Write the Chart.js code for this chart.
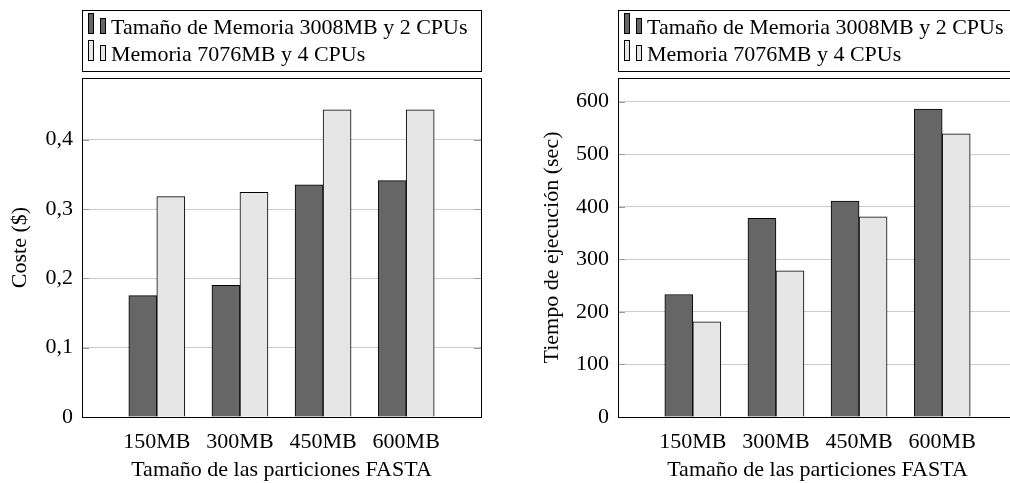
<!DOCTYPE html>
<html>
<head>
<meta charset="utf-8">
<script src="https://cdn.jsdelivr.net/npm/chart.js@4.4.1/dist/chart.umd.min.js"></script>
<style>
  html, body { margin: 0; padding: 0; background: #fff; overflow: hidden; width: 1010px; height: 483px; }
  canvas { position: absolute; top: 0; }
  #costChart { left: 0; }
  #timeChart { left: 500px; }
</style>
</head>
<body>
<canvas id="costChart" width="500" height="483"></canvas>
<canvas id="timeChart" width="530" height="483"></canvas>
<script>
// data
const partitions = ['150MB', '300MB', '450MB', '600MB'];
const seriesNames = ['Tamaño de Memoria 3008MB y 2 CPUs', 'Memoria 7076MB y 4 CPUs'];
const costSmall = [0.175, 0.19, 0.335, 0.341];
const costLarge = [0.318, 0.324, 0.443, 0.443];
const timeSmall = [233, 378, 411, 586];
const timeLarge = [181, 278, 381, 539];
const costTicks = [0, 0.1, 0.2, 0.3, 0.4];
const timeTicks = [0, 100, 200, 300, 400, 500, 600];

const darkGrey = '#666666';
const lightGrey = '#e6e6e6';

Chart.defaults.font.family = "'Liberation Serif', 'Times New Roman', serif";
Chart.defaults.font.size = 22;
Chart.defaults.color = '#000';

// little two-bar legend glyph, like the ybar legend of pgfplots
function legendIcon(fill) {
  const c = document.createElement('canvas');
  c.width = 41;
  c.height = 40;
  const g = c.getContext('2d');
  g.fillStyle = fill;
  g.strokeStyle = '#000';
  g.lineWidth = 1;
  [[15.5, 5.5, 5, 20], [27.5, 10.5, 5, 15]].forEach(([x, y, w, h]) => {
    g.fillRect(x, y, w, h);
    g.strokeRect(x, y, w, h);
  });
  return c;
}
const icons = [legendIcon(darkGrey), legendIcon(lightGrey)];

// frame around plot + legend, and the small inner tick marks
const boxes = {
  id: 'boxes',
  afterInit(chart) {
    const fit = chart.legend.fit;
    chart.legend.fit = function () {
      fit.call(this);
      this.height += 2;
    };
  },
  afterDatasetsDraw(chart) {
    const { ctx, chartArea: a, scales: { y } } = chart;
    ctx.save();
    ctx.strokeStyle = '#9a9a9a';
    ctx.lineWidth = 1;
    y.ticks.forEach(t => {
      const py = Math.round(y.getPixelForValue(t.value)) + 0.5;
      ctx.beginPath();
      ctx.moveTo(a.left, py); ctx.lineTo(a.left + 7, py);
      ctx.moveTo(a.right - 7, py); ctx.lineTo(a.right, py);
      ctx.stroke();
    });
    ctx.strokeStyle = '#000';
    ctx.strokeRect(Math.floor(a.left) + 0.5, Math.floor(a.top) + 0.5,
      Math.round(a.right - a.left), Math.round(a.bottom - a.top));
    ctx.restore();
  },
  afterDraw(chart) {
    const { ctx, legend } = chart;
    const top = Math.round(legend.top - 2) + 0.5;
    const bottom = Math.round(legend.bottom - 7) + 0.5;
    ctx.save();
    ctx.strokeStyle = '#000';
    ctx.lineWidth = 1;
    ctx.strokeRect(Math.floor(legend.left) + 0.5, top, Math.round(legend.right - legend.left), bottom - top);
    ctx.restore();
  }
};

function makeChart(id, small, large, ticks, yMax, yTitle, axisWidth, titlePad, rightPad, fmt) {
  return new Chart(document.getElementById(id), {
    type: 'bar',
    data: {
      datasets: [
        {
          label: seriesNames[0],
          data: partitions.map((p, i) => ({ x: i, y: small[i] })),
          backgroundColor: darkGrey,
          borderColor: '#000',
          borderWidth: 1,
          barThickness: 28
        },
        {
          label: seriesNames[1],
          data: partitions.map((p, i) => ({ x: i, y: large[i] })),
          backgroundColor: lightGrey,
          borderColor: '#000',
          borderWidth: 1,
          barThickness: 28
        }
      ]
    },
    options: {
      responsive: false,
      animation: false,
      devicePixelRatio: 1,
      layout: { padding: { top: 12, left: 0, right: rightPad, bottom: 0 } },
      scales: {
        x: {
          type: 'linear',
          offset: false,
          min: -0.9,
          max: 3.9,
          grid: { display: false, drawTicks: false },
          border: { display: false },
          afterBuildTicks: s => { s.ticks = partitions.map((p, i) => ({ value: i })); },
          afterFit: s => { s.height = 66; },
          ticks: {
            autoSkip: false,
            maxRotation: 0,
            padding: 12,
            callback: v => partitions[v]
          },
          title: {
            display: true,
            text: 'Tamaño de las particiones FASTA',
            padding: { top: 0, bottom: 0 }
          }
        },
        y: {
          min: 0,
          max: yMax,
          grid: { color: '#cccccc', lineWidth: 1, drawTicks: false },
          border: { display: false },
          afterBuildTicks: s => { s.ticks = ticks.map(v => ({ value: v })); },
          afterFit: s => { s.width = axisWidth; },
          ticks: { padding: 9, callback: fmt },
          title: {
            display: true,
            text: yTitle,
            padding: { top: titlePad, bottom: 0 }
          }
        }
      },
      plugins: {
        tooltip: { enabled: false },
        legend: {
          position: 'top',
          align: 'start',
          fullSize: false,
          labels: {
            usePointStyle: true,
            pointStyleWidth: 13,
            padding: 5,
            color: '#000',
            font: { size: 22 },
            generateLabels: chart => chart.data.datasets.map((ds, i) => ({
              text: ds.label,
              pointStyle: icons[i],
              fillStyle: ds.backgroundColor,
              strokeStyle: '#000',
              lineWidth: 1,
              hidden: false,
              datasetIndex: i,
              fontColor: '#000'
            }))
          }
        }
      }
    },
    plugins: [boxes]
  });
}

makeChart('costChart', costSmall, costLarge, costTicks, 0.489, 'Coste ($)', 82, 7, 19,
  v => (v === 0 ? '0' : v.toFixed(1).replace('.', ',')));
makeChart('timeChart', timeSmall, timeLarge, timeTicks, 645, 'Tiempo de ejecución (sec)', 118, 38.8, 13,
  v => String(v));
</script>
</body>
</html>
